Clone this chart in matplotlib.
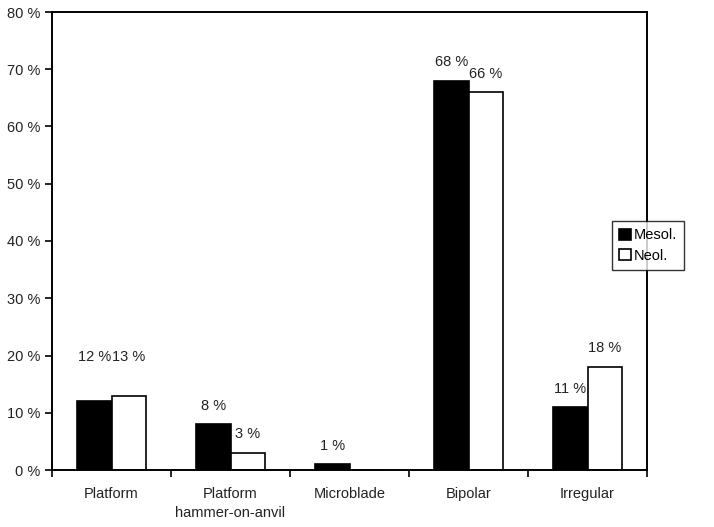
import matplotlib
matplotlib.use("Agg")
import matplotlib.pyplot as plt
import numpy as np

categories = ["Platform", "Platform\nhammer-on-anvil", "Microblade", "Bipolar", "Irregular"]
mesol = [12, 8, 1, 68, 11]
neol = [13, 3, 0, 66, 18]
series_names = ["Mesol.", "Neol."]
y_ticks = [0, 10, 20, 30, 40, 50, 60, 70, 80]

# label offset above bar (data units); the Platform pair sits higher, side by side
label_pad = [5.6, 2.0, 2.0, 2.0, 2.0]
align_pair = [True, False, False, False, False]

plt.rcParams["font.family"] = ["Liberation Sans", "DejaVu Sans"]

fig = plt.figure(figsize=(7.14, 5.27), dpi=100)
ax = fig.add_axes([52 / 714, 57 / 527, 595 / 714, 458 / 527])

x = np.arange(len(categories))
w = 0.286
b1 = ax.bar(x - w / 2, mesol, w, color="black", edgecolor="black", linewidth=1.2, label=series_names[0])
b2 = ax.bar(x + w / 2, neol, w, color="white", edgecolor="black", linewidth=1.2, label=series_names[1])

for bars, vals in ((b1, mesol), (b2, neol)):
    for i, (r, v) in enumerate(zip(bars, vals)):
        if v > 0:
            base = max(mesol[i], neol[i]) if align_pair[i] else v
            ax.text(r.get_x() + r.get_width() / 2, base + label_pad[i], f"{v} %",
                    ha="center", va="bottom", fontsize=10.5, color="#222222")

ax.set_xlim(-0.5, len(categories) - 0.5)
ax.set_ylim(0, 80)
ax.set_yticks(y_ticks)
ax.set_yticklabels([f"{t} %" for t in y_ticks], fontsize=10.5, color="#222222")
ax.set_xticks(np.arange(-0.5, len(categories), 1.0))
ax.set_xticklabels([])
ax.set_xticks(x, minor=True)
ax.set_xticklabels(categories, minor=True, fontsize=10.5, color="#222222", linespacing=1.5)
ax.tick_params(axis="x", which="minor", length=0, pad=12)
ax.tick_params(axis="both", which="major", length=5, width=1.2, direction="out")
for s in ax.spines.values():
    s.set_linewidth(1.4)

fig.legend(loc="upper left", bbox_to_anchor=(612 / 714, 1 - 221 / 527),
           fontsize=10.5, frameon=True, fancybox=False, edgecolor="black",
           handlelength=0.8, handleheight=0.8, handletextpad=0.2,
           borderaxespad=0, borderpad=0.5, labelspacing=0.45)

fig.savefig("out.png", dpi=100)
plt.close()
